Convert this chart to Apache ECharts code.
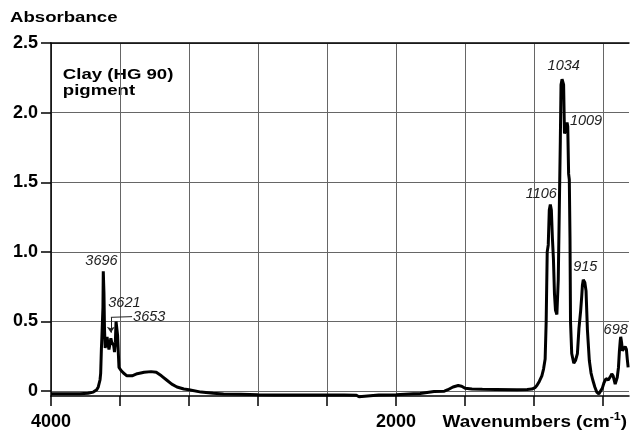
<!DOCTYPE html>
<html><head><meta charset="utf-8">
<script src="https://cdn.jsdelivr.net/npm/echarts@6/dist/echarts.min.js"></script>
<style>html,body{margin:0;padding:0;background:#fff}#c{width:630px;height:436px}</style>
</head><body><div id="c"></div>
<script>
// ---- data (wavenumber cm^-1, absorbance) ----
const wavenumbers = [4000,3900,3832,3786,3755,3735,3726,3716,3712,3708,3705,3701,3699,3697,3695,3693,3690,3686,3681,3675,3670,3664,3658,3653,3648,3642,3637,3632,3627,3623,3619,3614,3610,3606,3595,3580,3560,3530,3500,3460,3420,3390,3360,3330,3300,3270,3230,3200,3130,3060,3000,2900,2800,2700,2600,2500,2400,2300,2230,2215,2205,2100,2000,1990,1900,1860,1850,1780,1720,1700,1670,1640,1620,1600,1560,1500,1420,1300,1240,1213,1195,1184,1170,1155,1145,1136,1130,1124,1118,1112,1106,1100,1094,1088,1082,1076,1068,1060,1054,1048,1044,1038,1034,1029,1024,1019,1014,1009,1005,1000,996,992,989,982,970,960,949,940,930,924,920,915,906,899,891,880,870,860,848,837,825,815,805,795,783,770,764,755,750,742,737,730,725,718,711,706,701,698,693,688,680,672,665,660,655];
const absorbance = [-0.018,-0.018,-0.018,-0.015,-0.007,0.01,0.03,0.08,0.13,0.30,0.39,0.40,0.60,0.86,0.86,0.70,0.45,0.31,0.32,0.39,0.34,0.30,0.34,0.38,0.35,0.36,0.33,0.28,0.35,0.50,0.50,0.40,0.28,0.17,0.15,0.13,0.11,0.11,0.125,0.135,0.14,0.135,0.11,0.08,0.05,0.03,0.015,0.01,-0.007,-0.015,-0.02,-0.022,-0.026,-0.028,-0.028,-0.028,-0.028,-0.028,-0.03,-0.04,-0.03,-0.028,-0.026,-0.02,-0.018,-0.017,-0.005,-0.002,0.0,0.01,0.03,0.04,0.035,0.02,0.015,0.013,0.012,0.01,0.012,0.015,0.025,0.04,0.07,0.11,0.16,0.23,0.50,1.00,1.05,1.30,1.34,1.30,1.10,0.95,0.70,0.58,0.55,0.80,1.30,1.80,2.20,2.24,2.25,2.20,1.85,1.84,1.88,1.93,1.90,1.56,1.52,1.10,0.50,0.27,0.20,0.22,0.27,0.45,0.58,0.68,0.76,0.80,0.78,0.72,0.44,0.22,0.13,0.08,0.03,-0.007,-0.02,-0.018,0.02,0.06,0.09,0.08,0.077,0.11,0.125,0.11,0.10,0.05,0.04,0.10,0.17,0.28,0.36,0.39,0.35,0.29,0.30,0.32,0.30,0.23,0.17];
const xGridTicks = [4000,3600,3200,2800,2400,2000,1600,1200,800];
const xTickLabels = [4000,2000];
const yTicks = [0,0.5,1,1.5,2,2.5];
const peakLabels = [3696,3621,1106,1034,1009,915,698];
const peakValues = [0.86,0.50,1.34,2.25,1.93,0.80,0.39];
const arrowPeak = 3653;

// ---- chart ----
const labelOffsets = {3696:[-2,-10],3621:[8,-19],1106:[-9,-11],1034:[1,-12],1009:[19,-1],915:[2,-13],698:[-5,-7]};
const seriesData = wavenumbers.map((w,i)=>[w,absorbance[i]]);
const FONT = '"Liberation Sans", Arial, Helvetica, sans-serif';
const peakFont = {fontFamily: FONT, fontStyle:'italic', fontSize:14.5, color:'#222'};

const markPoints = peakLabels.map((w,i) => ({
  coord:[w, peakValues[i]], symbol:'circle', symbolSize:0,
  label:{show:true, position:'inside', offset:labelOffsets[w], formatter:String(w), ...peakFont}
}));
markPoints.push({coord:[3530,0.535], symbol:'circle', symbolSize:0,
  label:{show:true, position:'right', distance:1, formatter:String(arrowPeak), ...peakFont}});

const chart = echarts.init(document.getElementById('c'), null, {renderer:'canvas'});
chart.setOption({
  animation:false,
  backgroundColor:'#fff',
  grid:{left:51, right:1, top:43, bottom:40, containLabel:false},
  xAxis:[{
    type:'value', inverse:true, min:650, max:4000,
    axisLine:{onZero:false, lineStyle:{color:'#000', width:1.5}},
    axisTick:{customValues:xGridTicks, length:10, lineStyle:{color:'#000', width:1.5}},
    axisLabel:{customValues:xTickLabels, margin:17, fontFamily:FONT, fontWeight:'bold', fontSize:18, color:'#000',
      formatter:v => String(v)},
    splitLine:{show:true, lineStyle:{color:'#666', width:1}}
  },{
    type:'value', inverse:true, min:650, max:4000, position:'top',
    axisLine:{onZero:false, lineStyle:{color:'#000', width:1.5}},
    axisTick:{show:false}, axisLabel:{show:false}, splitLine:{show:false}
  }],
  yAxis:{
    type:'value', min:-0.035, max:2.5,
    axisLine:{show:true, onZero:false, lineStyle:{color:'#000', width:1.5}},
    axisTick:{show:true, customValues:yTicks, length:10, lineStyle:{color:'#000', width:1.5}},
    axisLabel:{customValues:yTicks, margin:13, fontFamily:FONT, fontWeight:'bold', fontSize:18, color:'#000',
      formatter:v => v===0 ? '0' : v.toFixed(1)},
    splitLine:{show:true, lineStyle:{color:'#666', width:1}}
  },
  series:[{
    type:'line', data:seriesData, showSymbol:false, symbol:'none',
    lineStyle:{color:'#000', width:3}, clip:false,
    markPoint:{data:markPoints, animation:false},
    markLine:{silent:true, animation:false, label:{show:false},
      lineStyle:{color:'#222', width:1, type:'solid'},
      data:[
        [{coord:[arrowPeak,0.53], symbol:'none'},{coord:[arrowPeak,0.42], symbol:'arrow', symbolSize:6}],
        [{coord:[arrowPeak,0.53], symbol:'none'},{coord:[3530,0.535], symbol:'none'}]
      ]}
  }],
  graphic:[
    {type:'text', x:10, y:10, scaleX:1.2, style:{text:'Absorbance', align:'left', verticalAlign:'top',
      fontFamily:FONT, fontWeight:'bold', fontSize:15.5, fill:'#000'}},
    {type:'text', x:58, y:63, scaleX:1.2, style:{text:'Clay (HG 90)\npigment', align:'left', verticalAlign:'top',
      fontFamily:FONT, fontWeight:'bold', fontSize:15.5, lineHeight:16, fill:'#000', backgroundColor:'#fff', padding:[4,4,4,4]}},
    {type:'text', x:627, y:412, scaleX:1.18, style:{
      text:'{a|Wavenumbers (cm}{s|-1}{a|)}', align:'right', verticalAlign:'top',
      rich:{a:{fontFamily:FONT, fontWeight:'bold', fontSize:16, lineHeight:19, fill:'#000', verticalAlign:'bottom'},
            s:{fontFamily:FONT, fontWeight:'bold', fontSize:10.5, lineHeight:19, fill:'#000', verticalAlign:'top'}}}}
  ]
});
</script></body></html>
